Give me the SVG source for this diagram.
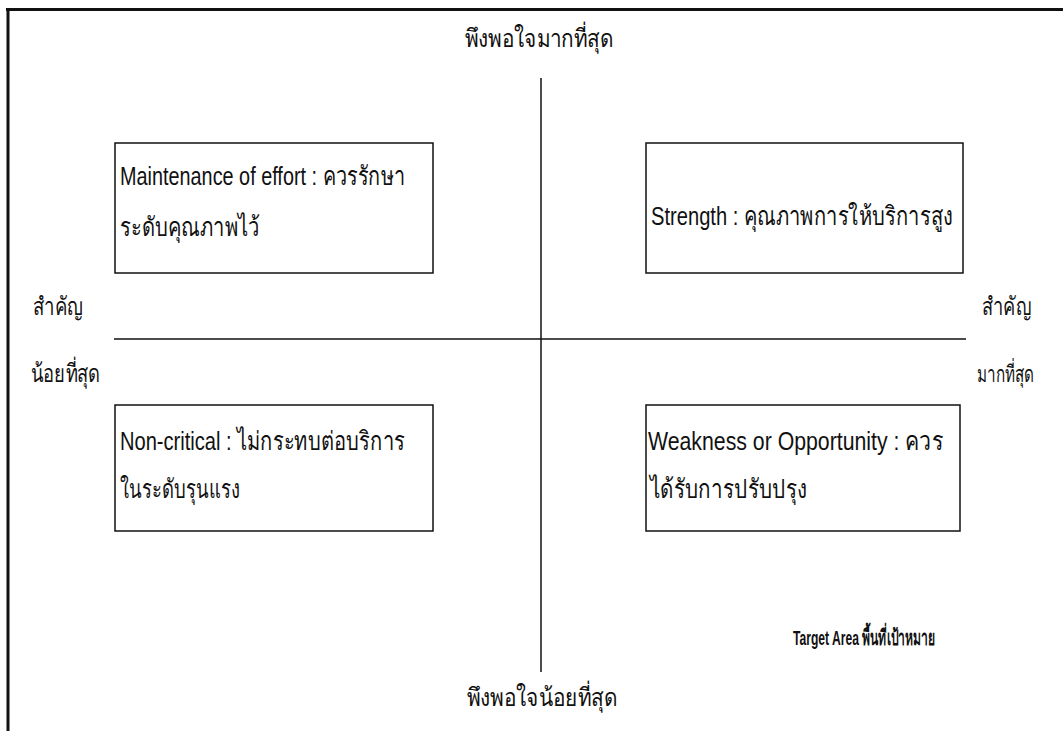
<svg xmlns="http://www.w3.org/2000/svg" width="1063" height="731" viewBox="0 0 1063 731">
<style>
.t{font-family:"Liberation Sans Narrow","Liberation Sans","Noto Sans",sans-serif;font-size:26px;fill:#111}
.l{font-family:"Liberation Sans Narrow","Liberation Sans","Noto Sans",sans-serif;font-size:25px;fill:#111}
.b{font-family:"Liberation Sans","Noto Sans",sans-serif;font-size:21px;font-weight:bold;fill:#111}
.box{fill:#fff;stroke:#111;stroke-width:1.5}
.ax{stroke:#111;stroke-width:1.5;fill:none}
</style>
<rect width="1063" height="731" fill="#fff"/>
<g id="frame">
<line x1="6" y1="9.5" x2="1063" y2="9.5" stroke="#111" stroke-width="3"/>
<line x1="8" y1="8" x2="8" y2="731" stroke="#111" stroke-width="3"/>
</g>
<g id="connectors">
<line class="ax" x1="114" y1="339" x2="966" y2="339"/>
<line class="ax" x1="541" y1="78" x2="541" y2="672"/>
</g>
<g id="top-label"><text class="l" x="465" y="47" textLength="148" lengthAdjust="spacingAndGlyphs">พึงพอใจมากที่สุด</text></g>
<g id="bottom-label"><text class="l" x="467" y="706" textLength="150" lengthAdjust="spacingAndGlyphs">พึงพอใจน้อยที่สุด</text></g>
<g id="left-label">
<text class="l" x="33" y="315" textLength="50" lengthAdjust="spacingAndGlyphs">สำคัญ</text>
<text class="l" x="31" y="382" textLength="69" lengthAdjust="spacingAndGlyphs">น้อยที่สุด</text>
</g>
<g id="right-label">
<text class="l" x="982" y="315" textLength="49" lengthAdjust="spacingAndGlyphs">สำคัญ</text>
<text class="l" x="977" y="382" textLength="57" lengthAdjust="spacingAndGlyphs" style="font-size:23px">มากที่สุด</text>
</g>
<g id="maintenance">
<rect class="box" x="115" y="143" width="318" height="130"/>
<text class="t" x="120" y="185" textLength="285" lengthAdjust="spacingAndGlyphs">Maintenance of effort : ควรรักษา</text>
<text class="t" x="120" y="236" textLength="140" lengthAdjust="spacingAndGlyphs">ระดับคุณภาพไว้</text>
</g>
<g id="strength">
<rect class="box" x="646" y="143" width="317" height="130"/>
<text class="t" x="651" y="225" textLength="302" lengthAdjust="spacingAndGlyphs">Strength : คุณภาพการให้บริการสูง</text>
</g>
<g id="non-critical">
<rect class="box" x="115" y="405" width="318" height="126"/>
<text class="t" x="120" y="450" textLength="285" lengthAdjust="spacingAndGlyphs">Non-critical : ไม่กระทบต่อบริการ</text>
<text class="t" x="120" y="498" textLength="120" lengthAdjust="spacingAndGlyphs">ในระดับรุนแรง</text>
</g>
<g id="weakness">
<rect class="box" x="646" y="405" width="314" height="126"/>
<text class="t" x="648" y="450" textLength="295" lengthAdjust="spacingAndGlyphs">Weakness or Opportunity : ควร</text>
<text class="t" x="650" y="498" textLength="157" lengthAdjust="spacingAndGlyphs">ได้รับการปรับปรุง</text>
</g>
<g id="target-area">
<text class="b" x="793" y="645" textLength="142" lengthAdjust="spacingAndGlyphs">Target Area พื้นที่เป้าหมาย</text>
</g>
</svg>
